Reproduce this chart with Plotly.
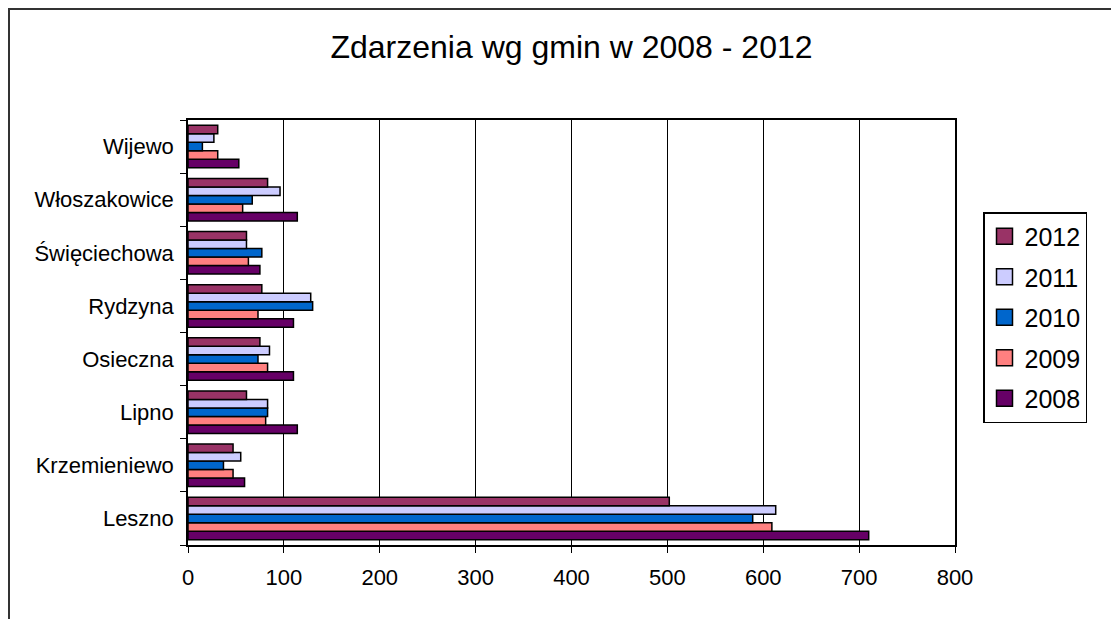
import plotly.graph_objects as go

categories = ["Leszno", "Krzemieniewo", "Lipno", "Osieczna", "Rydzyna",
              "Święciechowa", "Włoszakowice", "Wijewo"]
years = ["2008", "2009", "2010", "2011", "2012"]
v2008 = [710, 59, 114, 110, 110, 75, 114, 53]
v2009 = [609, 47, 81, 83, 73, 63, 57, 31]
v2010 = [589, 37, 83, 73, 130, 77, 67, 15]
v2011 = [613, 55, 83, 85, 128, 61, 96, 27]
v2012 = [502, 47, 61, 75, 77, 61, 83, 31]
series = [v2008, v2009, v2010, v2011, v2012]
colors = ["#660066", "#FF8080", "#0066CC", "#CCCCFF", "#993366"]
x_ticks = [0, 100, 200, 300, 400, 500, 600, 700, 800]

# page has an 8px body margin; figure coordinates = page - 8
OFF = 8
W, H = 1119 - OFF, 619 - OFF
L, R, T, B = 188 - OFF, 955 - OFF, 120 - OFF, 545 - OFF

fig = go.Figure()
for yr, vals, col in zip(years, series, colors):
    fig.add_trace(go.Bar(
        y=categories, x=vals, name=yr, orientation="h",
        marker=dict(color=col, line=dict(color="black", width=1.5)),
        showlegend=False,
    ))
# legend entries (larger square symbols, 2012 on top)
for i, (yr, col) in enumerate(zip(years, colors)):
    fig.add_trace(go.Scatter(
        x=[None], y=[None], mode="markers", name=yr,
        marker=dict(symbol="square", size=16, color=col,
                    line=dict(color="black", width=1.5)),
        legendgroup=yr, legendrank=100 - i, showlegend=True,
    ))

def px_x(p):
    return (p - OFF - L) / (R - L)

def px_y(p):
    return (B - (p - OFF)) / (B - T)

fig.update_layout(
    width=W, height=H,
    margin=dict(l=L, r=W - R, t=T, b=H - B, pad=0),
    paper_bgcolor="white", plot_bgcolor="white",
    font=dict(family="Liberation Sans, Arial, sans-serif", size=22, color="black"),
    title=dict(text="Zdarzenia wg gmin w 2008 - 2012", x=0.5, xanchor="center",
               xref="paper",
               y=1 - (47 - OFF) / H, yanchor="middle",
               font=dict(size=32, color="black")),
    barmode="group", bargap=0.2, bargroupgap=0,
    showlegend=True,
    legend=dict(
        traceorder="grouped", tracegroupgap=5,
        x=px_x(983), y=px_y(212), xanchor="left", yanchor="top",
        bordercolor="black", borderwidth=1.5, bgcolor="white",
        font=dict(size=25), itemwidth=30, itemsizing="trace",
    ),
    xaxis=dict(
        range=[0, 800], tickvals=x_ticks, ticks="outside", ticklen=6,
        tickcolor="black", showgrid=True, gridcolor="black", gridwidth=1,
        showline=True, linecolor="black", linewidth=1.5, mirror=True,
        zeroline=False, tickfont=dict(size=22), ticklabelstandoff=6,
    ),
    yaxis=dict(
        type="category", categoryorder="array", categoryarray=categories,
        ticks="outside", ticklen=6, tickcolor="black", tickson="boundaries",
        showline=True, linecolor="black", linewidth=1.5, mirror=True,
        showgrid=False, tickfont=dict(size=22), ticklabelstandoff=8,
    ),
    shapes=[
        dict(type="line", xref="paper", yref="paper",
             x0=px_x(8), x1=px_x(1130), y0=px_y(9), y1=px_y(9),
             line=dict(color="#333333", width=2)),
        dict(type="line", xref="paper", yref="paper",
             x0=px_x(9), x1=px_x(9), y0=px_y(9), y1=px_y(630),
             line=dict(color="#333333", width=2)),
    ],
)

fig.write_html("out.html")
